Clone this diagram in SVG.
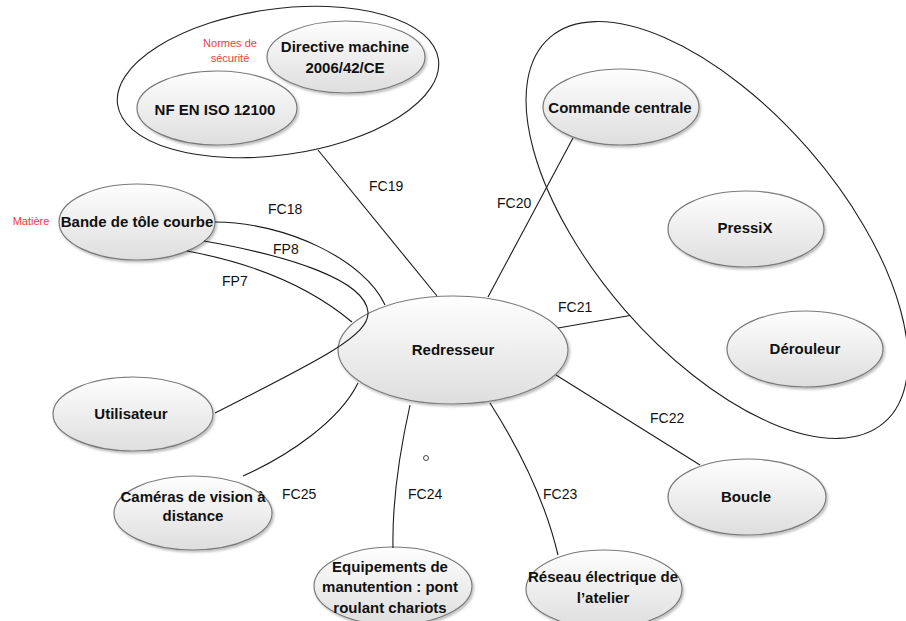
<svg xmlns="http://www.w3.org/2000/svg" width="906" height="621" viewBox="0 0 906 621">
<defs>
<linearGradient id="g" x1="0" y1="0" x2="0" y2="1">
<stop offset="0" stop-color="#fefefe"/>
<stop offset="1" stop-color="#dedede"/>
</linearGradient>
<filter id="sh" x="-10%" y="-10%" width="125%" height="130%">
<feDropShadow dx="1.5" dy="2" stdDeviation="1.2" flood-color="#000" flood-opacity="0.25"/>
</filter>
</defs>
<style>
.n{fill:url(#g);stroke:#7a7a7a;stroke-width:1.2;filter:url(#sh)}
.grp{fill:none;stroke:#222;stroke-width:1.1}
.t{font-family:"Liberation Sans",Arial,sans-serif;font-size:15px;font-weight:bold;fill:#111;text-anchor:middle}
.l{font-family:"Liberation Sans",Arial,sans-serif;font-size:14px;fill:#111}
.r{font-family:"Liberation Sans",Arial,sans-serif;font-size:11px;fill:#f03c3c;text-anchor:middle}
.c{fill:none;stroke:#1a1a1a;stroke-width:1.1}
</style>
<rect width="906" height="621" fill="#fff"/>

<g id="normes-group">
<ellipse class="grp" cx="278" cy="82" rx="162" ry="73" transform="rotate(-8 278 82)"/>
<text class="r" x="230" y="47">Normes de</text>
<text class="r" x="230" y="62">sécurité</text>
</g>
<g id="directive">
<ellipse class="n" cx="346" cy="57" rx="79" ry="36"/>
<text class="t" x="345" y="52">Directive machine</text>
<text class="t" x="345" y="73">2006/42/CE</text>
</g>
<g id="nf-en-iso">
<ellipse class="n" cx="217" cy="108" rx="80" ry="37"/>
<text class="t" x="215" y="115">NF EN ISO 12100</text>
</g>

<g id="machine-group">
<ellipse class="grp" cx="717" cy="230" rx="255" ry="122" transform="rotate(49 717 230)"/>
</g>
<g id="commande-centrale">
<ellipse class="n" cx="621" cy="107" rx="78" ry="38"/>
<text class="t" x="620" y="113">Commande centrale</text>
</g>
<g id="pressix">
<ellipse class="n" cx="746" cy="229" rx="78" ry="38"/>
<text class="t" x="745" y="233">PressiX</text>
</g>
<g id="derouleur">
<ellipse class="n" cx="805" cy="349" rx="78" ry="38"/>
<text class="t" x="805" y="354">Dérouleur</text>
</g>

<g id="redresseur">
<ellipse class="n" cx="453" cy="350" rx="115" ry="54"/>
<text class="t" x="453" y="355">Redresseur</text>
</g>
<g id="bande">
<ellipse class="n" cx="137" cy="222" rx="78" ry="38"/>
<text class="t" x="137" y="227">Bande de tôle courbe</text>
<text class="r" x="31" y="225">Matière</text>
</g>
<g id="utilisateur">
<ellipse class="n" cx="133" cy="414" rx="80" ry="37"/>
<text class="t" x="131" y="419">Utilisateur</text>
</g>
<g id="cameras">
<ellipse class="n" cx="193" cy="513" rx="79" ry="37"/>
<text class="t" x="193" y="502">Caméras de vision à</text>
<text class="t" x="193" y="521">distance</text>
</g>
<g id="equipements">
<ellipse class="n" cx="393" cy="586" rx="79" ry="39"/>
<text class="t" x="390" y="572">Equipements de</text>
<text class="t" x="390" y="592">manutention : pont</text>
<text class="t" x="390" y="613">roulant chariots</text>
</g>
<g id="reseau">
<ellipse class="n" cx="604" cy="589" rx="78" ry="39"/>
<text class="t" x="603" y="582">Réseau électrique de</text>
<text class="t" x="603" y="603">l’atelier</text>
</g>
<g id="boucle">
<ellipse class="n" cx="747" cy="497" rx="79" ry="38"/>
<text class="t" x="746" y="502">Boucle</text>
</g>

<g id="connectors">
<path class="c" d="M318,150 L437,296"/>
<path class="c" d="M573,138 L488,297"/>
<path class="c" d="M558,328 L630,315.5"/>
<path class="c" d="M556,375 L700,465"/>
<path class="c" d="M490,403 C520,450 545,500 558,555"/>
<path class="c" d="M410,405 C400,450 392,500 393,548"/>
<path class="c" d="M243,476 C290,455 340,420 358,383"/>
<path class="c" d="M215,222 C285,222 365,260 385,305"/>
<path class="c" d="M204,241 C290,256 365,280 368,312 C370,335 320,360 215,413"/>
<path class="c" d="M187,251 Q290,270 352,322"/>
<circle cx="426" cy="458" r="2.5" fill="none" stroke="#333" stroke-width="0.9"/>
<text class="l" x="369" y="191">FC19</text>
<text class="l" x="268" y="214">FC18</text>
<text class="l" x="273" y="254">FP8</text>
<text class="l" x="222" y="286">FP7</text>
<text class="l" x="497" y="208">FC20</text>
<text class="l" x="558" y="312">FC21</text>
<text class="l" x="650" y="423">FC22</text>
<text class="l" x="543" y="499">FC23</text>
<text class="l" x="408" y="499">FC24</text>
<text class="l" x="282" y="499">FC25</text>
</g>
</svg>
